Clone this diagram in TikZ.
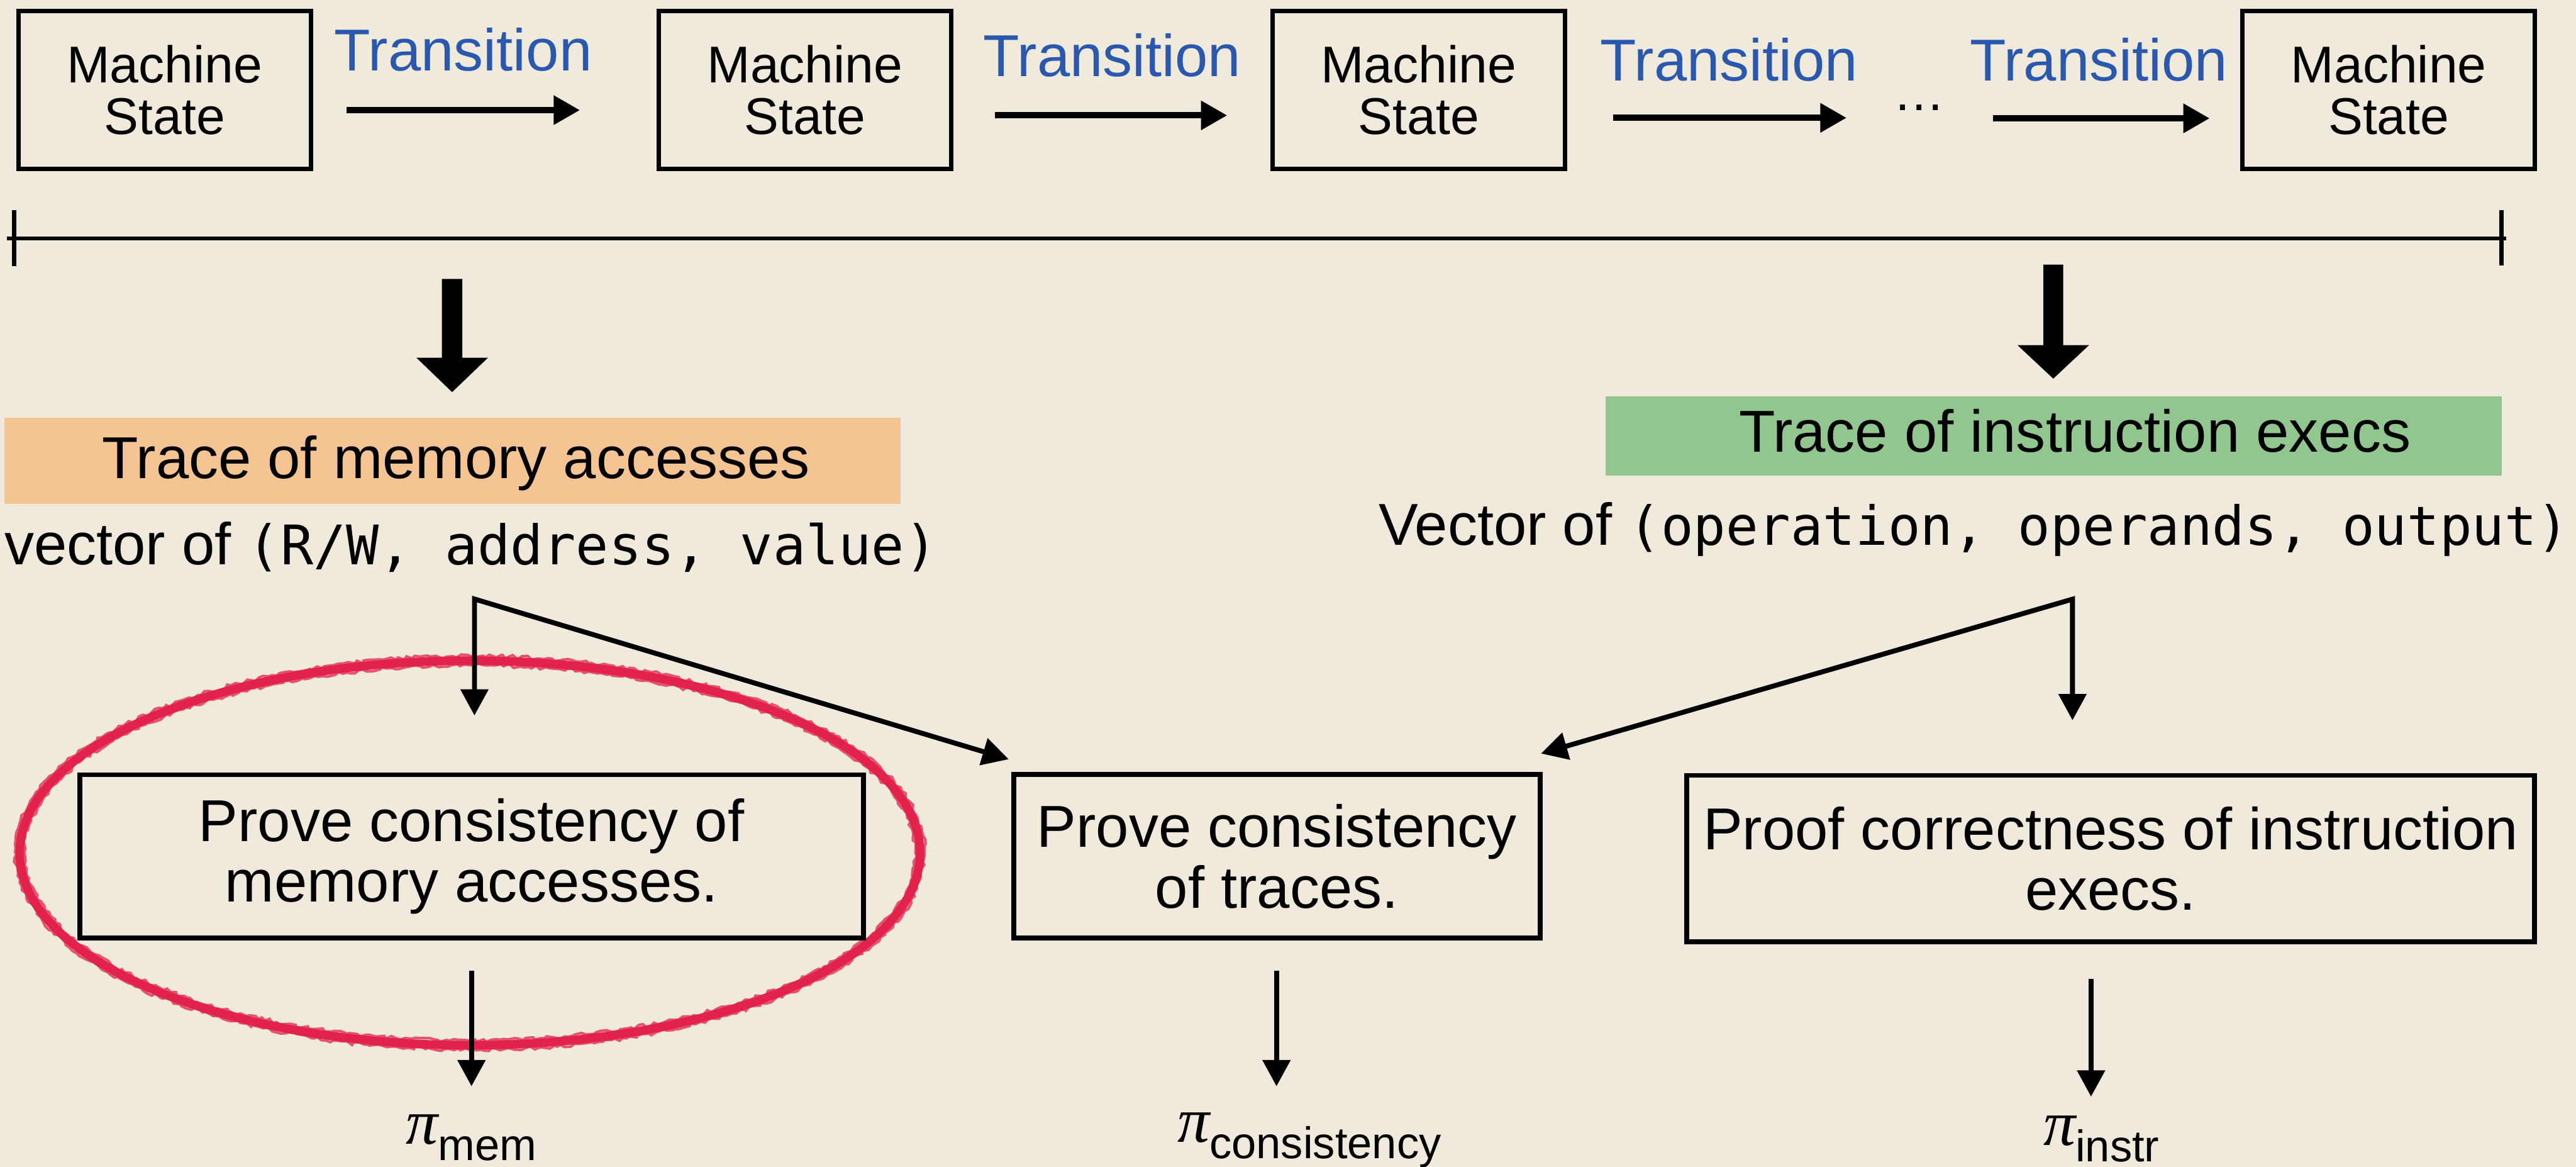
\documentclass[tikz,border=0pt]{standalone}
\usepackage{fontspec}
\setmainfont{Liberation Sans}
\newfontfamily\codefont{DejaVu Sans Mono}
\newfontfamily\greekfont{Liberation Serif}
\usetikzlibrary{arrows.meta,decorations.pathmorphing}

\definecolor{paper}{RGB}{240,234,220}
\definecolor{transblue}{RGB}{42,88,174}
\definecolor{memorange}{RGB}{245,196,147}
\definecolor{instrgreen}{RGB}{145,198,142}
\definecolor{markred}{RGB}{226,34,74}

\newcommand\fsz[1]{\fontsize{#1}{#1}\selectfont}
\newcommand\pisym{{\greekfont\itshape\fsz{39}π}}

\begin{document}
\begin{tikzpicture}[x=1pt,y=-1pt,
  statebox/.style={draw, line width=2.8pt, minimum width=178pt, minimum height=96.2pt,
    inner sep=0pt, align=center, font=\fontsize{31.5}{31.5}\selectfont},
  taskbox/.style={draw, line width=3pt, inner sep=0pt, align=center,
    font=\fontsize{36}{37}\selectfont},
  translabel/.style={text=transblue, font=\fsz{36}, inner sep=0pt, anchor=base},
  plaintext/.style={inner sep=0pt, font=\fsz{36}},
  steparrow/.style={line width=3.8pt, -{Triangle[length=16pt,width=17pt]}},
  flow/.style={line width=3pt, -{Triangle[length=16pt,width=16.5pt]}},
  fork/.style={line width=3pt, miter limit=20,
    {Triangle[length=16pt,width=16.5pt]}-{Triangle[length=16pt,width=16.5pt]}},
  bigarrow/.style={fill=black},
  crayon/.style={markred, line width=1.6pt, opacity=0.75, decorate,
    decoration={random steps, segment length=2.5pt, amplitude=1.1pt}},
  proof/.style={anchor=base west, inner sep=0pt, font=\fsz{36}}
]
% canvas
\fill[paper] (0,0) rectangle (1568,710);
\useasboundingbox (0,0) rectangle (1568,710);

% hand-drawn highlight around the memory-consistency step
\draw[markred, line width=5.2pt] (286,519) ellipse [x radius=274, y radius=117];
\draw[crayon] (286,519) ellipse [x radius=276.8, y radius=119.8];
\draw[crayon] (286,519) ellipse [x radius=271.2, y radius=114.2];

% machine states and transitions
\node[statebox] (s1) at (100.2,54.8) {Machine\\State};
\node[statebox] (s2) at (490,54.8) {Machine\\State};
\node[statebox] (s3) at (863.5,54.8) {Machine\\State};
\node[statebox] (s4) at (1454,54.8) {Machine\\State};

\node[translabel] (t1) at (282,43) {Transition};
\node[translabel] (t2) at (677,46.5) {Transition};
\node[translabel] (t3) at (1052.5,49) {Transition};
\node[translabel] (t4) at (1277.5,49) {Transition};

\coordinate (a1s) at (211,67);    \coordinate (a1e) at (353,67);
\coordinate (a2s) at (605.6,70.2); \coordinate (a2e) at (747,70.2);
\coordinate (a3s) at (982,71.7);  \coordinate (a3e) at (1124,71.7);
\coordinate (a4s) at (1213,72);   \coordinate (a4e) at (1345,72);
\draw[steparrow] (a1s) -- (a1e);
\draw[steparrow] (a2s) -- (a2e);
\draw[steparrow] (a3s) -- (a3e);
\draw[steparrow] (a4s) -- (a4e);
\node[anchor=base, inner sep=0pt, font=\fsz{31.5}] (dots) at (1168,67) {…};

% execution timeline
\coordinate (tl) at (8.6,145);
\coordinate (tr) at (1522.7,145);
\draw[line width=2.4pt] (4.4,145) -- (1525.3,145);
\draw[line width=2.5pt] (8.6,128) -- (8.6,162);
\draw[line width=2.5pt] (1522.7,128) -- (1522.7,161.6);

% block arrows down to the two traces
\fill[bigarrow] (269,169.7) -- (281.4,169.7) -- (281.4,217.7) -- (297,217.7)
  -- (275.2,238.6) -- (253.5,217.7) -- (269,217.7) -- cycle;
\fill[bigarrow] (1243.8,161) -- (1255.8,161) -- (1255.8,210) -- (1271.6,210)
  -- (1249.8,230.4) -- (1228,210) -- (1243.8,210) -- cycle;

% traces
\node[fill=memorange, minimum width=545.3pt, minimum height=52.2pt, inner sep=0pt]
  (memtrace) at (275.35,280.4) {};
\node[plaintext, anchor=base] (memlabel) at (277.7,291.2) {Trace of memory accesses};
\node[fill=instrgreen, minimum width=545.5pt, minimum height=48.4pt, inner sep=0pt]
  (instrtrace) at (1249.95,265.2) {};
\node[plaintext, anchor=base] (instrlabel) at (1263,275) {Trace of instruction execs};

\node[plaintext, anchor=base west] (memvec) at (2.5,343.5)
  {vector of {\codefont\fsz{33.2}(R/W, address, value)}};
\node[plaintext, anchor=base west] (instrvec) at (839,331.7)
  {Vector of {\codefont\fsz{32.8}(operation, operands, output)}};

% proof tasks
\node[taskbox, minimum width=477pt, minimum height=99.3pt] (memproof) at (287,521.1)
  {Prove consistency of\\memory accesses.};
\node[taskbox, minimum width=320.3pt, minimum height=99.5pt] (tracesproof) at (777.2,521.05)
  {Prove consistency\\of traces.};
\node[taskbox, minimum width=515.9pt, minimum height=101.3pt] (instrproof) at (1284.75,522.45)
  {Proof correctness of instruction\\execs.};

% forks from the traces into the tasks
\coordinate (lj) at (288.8,364.5);
\coordinate (lt) at (288.8,435.4);
\coordinate (lm) at (614,462);
\draw[fork] (lt) -- (lj) -- (lm);
\coordinate (rj) at (1261.5,364.6);
\coordinate (rt) at (1261.5,438.3);
\coordinate (rm) at (938,458.5);
\draw[fork] (rt) -- (rj) -- (rm);

% outputs
\coordinate (memout) at (287,590.8);        \coordinate (memin) at (287,661);
\coordinate (tracesout) at (777,590.8);     \coordinate (tracesin) at (777,661);
\coordinate (instrout) at (1272.8,595.6);   \coordinate (instrin) at (1272.8,667.3);
\draw[flow] (memout) -- (memin);
\draw[flow] (tracesout) -- (tracesin);
\draw[flow] (instrout) -- (instrin);

\node[proof] (pimem) at (247,696) {\pisym\raisebox{-10pt}{\fsz{27}mem}};
\node[proof] (piconsistency) at (716.5,695) {\pisym\raisebox{-10pt}{\fsz{27}consistency}};
\node[proof] (piinstr) at (1243.6,697) {\pisym\raisebox{-10pt}{\fsz{27}instr}};
\end{tikzpicture}
\end{document}
